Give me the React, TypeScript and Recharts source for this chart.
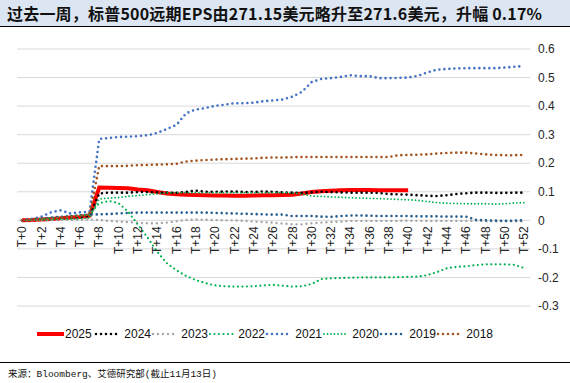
import React from 'react';
import { LineChart, Line, XAxis, YAxis, CartesianGrid } from 'recharts';

// T+0 ... T+52
const categories = Array.from({ length: 53 }, (_, i) => `T+${i}`);
const yTicks = [0.6, 0.5, 0.4, 0.3, 0.2, 0.1, 0, -0.1, -0.2, -0.3];

const v2025 = [0, 0.001, 0.003, 0.005, 0.007, 0.01, 0.012, 0.016,
  0.115, 0.114, 0.113, 0.112, 0.108, 0.105, 0.099, 0.094, 0.091,
  0.09, 0.089, 0.088, 0.087, 0.087, 0.086, 0.086, 0.087, 0.088, 0.088,
  0.089, 0.09, 0.094, 0.099, 0.102, 0.104, 0.105, 0.106, 0.106, 0.106,
  0.105, 0.105, 0.105, 0.105];
const v2024 = [0, 0.002, 0.004, 0.006, 0.008, 0.01, 0.012, 0.015,
  0.094, 0.097, 0.097, 0.097, 0.099, 0.099, 0.098, 0.097, 0.096,
  0.1, 0.104, 0.1, 0.1, 0.101, 0.101, 0.099, 0.1, 0.101, 0.1,
  0.098, 0.097, 0.096, 0.098, 0.1, 0.099, 0.098, 0.097, 0.097, 0.097,
  0.096, 0.092, 0.091, 0.09, 0.088, 0.086, 0.085, 0.088, 0.092, 0.095,
  0.097, 0.097, 0.096, 0.096, 0.097, 0.097];
const v2023 = [0, 0, 0, 0.001, 0.002, 0.002, 0.002, 0.003,
  0.001, -0.002, -0.004, -0.006, -0.008, -0.01, -0.01, -0.008, -0.003,
  0.001, 0.003, 0.002, 0.001, 0, 0, -0.002, -0.004, -0.006, -0.008,
  -0.011, -0.014, -0.014, -0.01, -0.008, -0.006, -0.004, -0.002, -0.002, -0.002,
  -0.002, -0.002, -0.002, -0.001, -0.002, -0.002, -0.002, -0.002, -0.002, -0.002,
  -0.002, -0.003, -0.003, -0.003, -0.003, -0.003];
const v2022 = [0, 0.002, 0.005, 0.008, 0.012, 0.015, 0.018, 0.02,
  0.06, 0.068, 0.06, 0.03, -0.015, -0.06, -0.11, -0.15, -0.175,
  -0.195, -0.209, -0.22, -0.228, -0.231, -0.232, -0.232, -0.231, -0.228, -0.226,
  -0.229, -0.232, -0.231, -0.223, -0.206, -0.203, -0.202, -0.201, -0.2, -0.2,
  -0.2, -0.2, -0.199, -0.198, -0.197, -0.192, -0.181, -0.168, -0.163, -0.161,
  -0.157, -0.154, -0.154, -0.154, -0.156, -0.167];
const v2021 = [0, 0.005, 0.013, 0.028, 0.035, 0.024, 0.028, 0.03,
  0.285, 0.288, 0.292, 0.293, 0.295, 0.298, 0.306, 0.32, 0.334,
  0.375, 0.388, 0.393, 0.401, 0.405, 0.41, 0.41, 0.412, 0.417, 0.42,
  0.423, 0.433, 0.45, 0.484, 0.495, 0.498, 0.502, 0.508, 0.505, 0.505,
  0.498, 0.498, 0.499, 0.5, 0.506, 0.518, 0.528, 0.53, 0.532, 0.533,
  0.533, 0.533, 0.533, 0.535, 0.538, 0.54];
const v2020 = [0, 0, 0.001, 0.002, 0.004, 0.005, 0.006, 0.008,
  0.075, 0.078, 0.08, 0.084, 0.087, 0.09, 0.093, 0.096, 0.097,
  0.097, 0.097, 0.097, 0.097, 0.097, 0.097, 0.097, 0.097, 0.097, 0.097,
  0.097, 0.096, 0.092, 0.085, 0.084, 0.082, 0.081, 0.079, 0.078, 0.077,
  0.076, 0.075, 0.073, 0.072, 0.07, 0.066, 0.062, 0.06, 0.059, 0.058,
  0.058, 0.058, 0.057, 0.058, 0.061, 0.062];
const v2019 = [0, 0.003, 0.006, 0.01, 0.012, 0.014, 0.017, 0.02,
  0.021, 0.022, 0.024, 0.026, 0.027, 0.027, 0.027, 0.027, 0.027,
  0.027, 0.027, 0.027, 0.026, 0.025, 0.024, 0.023, 0.022, 0.021, 0.02,
  0.02, 0.015, 0.015, 0.015, 0.013, 0.012, 0.015, 0.017, 0.017, 0.016,
  0.015, 0.015, 0.015, 0.015, 0.014, 0.014, 0.014, 0.013, 0.013, 0.013,
  0.002, 0, -0.001, -0.002, -0.001, 0];
const v2018 = [0, 0.002, 0.004, 0.006, 0.009, 0.012, 0.016, 0.02,
  0.19, 0.19, 0.19, 0.191, 0.193, 0.194, 0.195, 0.196, 0.198,
  0.206, 0.209, 0.211, 0.213, 0.214, 0.215, 0.216, 0.217, 0.219, 0.22,
  0.22, 0.221, 0.222, 0.222, 0.222, 0.222, 0.222, 0.222, 0.222, 0.222,
  0.222, 0.222, 0.228, 0.229, 0.23, 0.231, 0.234, 0.236, 0.237, 0.237,
  0.234, 0.231, 0.229, 0.228, 0.228, 0.229];

const series = [
  { name: '2025', values: v2025, color: '#FF0000', width: 4, dash: undefined as string | undefined },
  { name: '2024', values: v2024, color: '#000000', width: 2.6, dash: '0 5' },
  { name: '2023', values: v2023, color: '#A5A5A5', width: 2.4, dash: '0 5' },
  { name: '2022', values: v2022, color: '#00B050', width: 2.2, dash: '0 4.5' },
  { name: '2021', values: v2021, color: '#4472C4', width: 2.6, dash: '0 5' },
  { name: '2020', values: v2020, color: '#00B050', width: 1.8, dash: '0 3.5' },
  { name: '2019', values: v2019, color: '#255E91', width: 2.6, dash: '0 5' },
  { name: '2018', values: v2018, color: '#A5541E', width: 2.6, dash: '0 5' },
];

const data = categories.map((name, i) => {
  const row: Record<string, any> = { name };
  series.forEach((s) => {
    row[s.name] = i < s.values.length ? s.values[i] : null;
  });
  return row;
});

const W = 570;
const H = 383;
const margin = { top: 49, right: 0, bottom: 76, left: 17 };
const plotH = H - margin.top - margin.bottom - 1;
const font = '"Liberation Sans", Arial, sans-serif';
const cjk = '"Noto Sans CJK SC", sans-serif';

// category labels sit on the zero line, not at the bottom of the plot
const XTick = (props: any) => {
  const { x, y, payload } = props;
  const zeroY = y - plotH * (0.3 / 0.9) + 6;
  return (
    <text
      x={x}
      y={zeroY}
      transform={`rotate(-90 ${x} ${zeroY})`}
      textAnchor="end"
      dy="0.35em"
      fontSize={12}
      fontFamily={font}
      fill="#262626"
    >
      {payload.value}
    </text>
  );
};

const App: React.FC = () => {
  return (
    <div style={{ position: 'absolute', top: 0, left: 0, width: W, height: H, background: '#fff', overflow: 'hidden' }}>
      <LineChart width={W} height={H} data={data} margin={margin}>
        <CartesianGrid vertical={false} stroke="#D9D9D9" />
        <XAxis
          dataKey="name"
          interval={1}
          height={1}
          tick={<XTick />}
          tickSize={0}
          tickMargin={0}
          axisLine={false}
          tickLine={false}
          padding={{ left: 5, right: 6 }}
        />
        <YAxis
          orientation="right"
          width={40}
          domain={[-0.3, 0.6]}
          ticks={yTicks}
          tickFormatter={(v: number) => (v === 0 ? '0' : v.toFixed(1))}
          axisLine={false}
          tickLine={false}
          tick={{ fontSize: 12, fontFamily: font, fill: '#262626' }}
        />
        {series.map((s) => (
          <Line
            key={s.name}
            dataKey={s.name}
            stroke={s.color}
            strokeWidth={s.width}
            strokeDasharray={s.dash}
            strokeLinecap={s.dash ? 'round' : 'butt'}
            dot={false}
            activeDot={false}
            isAnimationActive={false}
            connectNulls={false}
          />
        ))}
      </LineChart>

      <div
        style={{
          position: 'absolute', top: 0, left: 0, width: W, height: 27,
          background: '#DCE6F2', borderBottom: '1.5px solid #000',
          fontFamily: cjk, fontWeight: 700, fontSize: 16, lineHeight: '27px', letterSpacing: 0.2,
          paddingLeft: 7, boxSizing: 'border-box', color: '#111', whiteSpace: 'nowrap',
        }}
      >
        过去一周，标普500远期EPS由271.15美元略升至271.6美元，升幅 0.17%
      </div>

      <div style={{ position: 'absolute', top: 327, left: 37, display: 'flex', height: 14 }}>
        {series.map((s) => (
          <div key={s.name} style={{ width: 57, display: 'flex', alignItems: 'center' }}>
            <svg width={27} height={10}>
              <line
                x1={s.dash ? 2 : 0}
                y1={5}
                x2={s.dash ? 26 : 27}
                y2={5}
                stroke={s.color}
                strokeWidth={s.width}
                strokeDasharray={s.dash}
                strokeLinecap={s.dash ? 'round' : 'butt'}
              />
            </svg>
            <span style={{ fontFamily: font, fontSize: 12, marginLeft: s.dash ? 4 : 1, color: '#111' }}>{s.name}</span>
          </div>
        ))}
      </div>

      <div style={{ position: 'absolute', top: 362, left: 0, width: W, borderTop: '1.5px solid #000' }} />
      <div
        style={{
          position: 'absolute', top: 366, left: 8, fontSize: 9.5,
          fontFamily: '"Liberation Mono", "Noto Sans CJK SC", monospace', color: '#111', whiteSpace: 'nowrap',
        }}
      >
        来源：Bloomberg、艾德研究部(截止11月13日)
      </div>
    </div>
  );
};

export default App;
